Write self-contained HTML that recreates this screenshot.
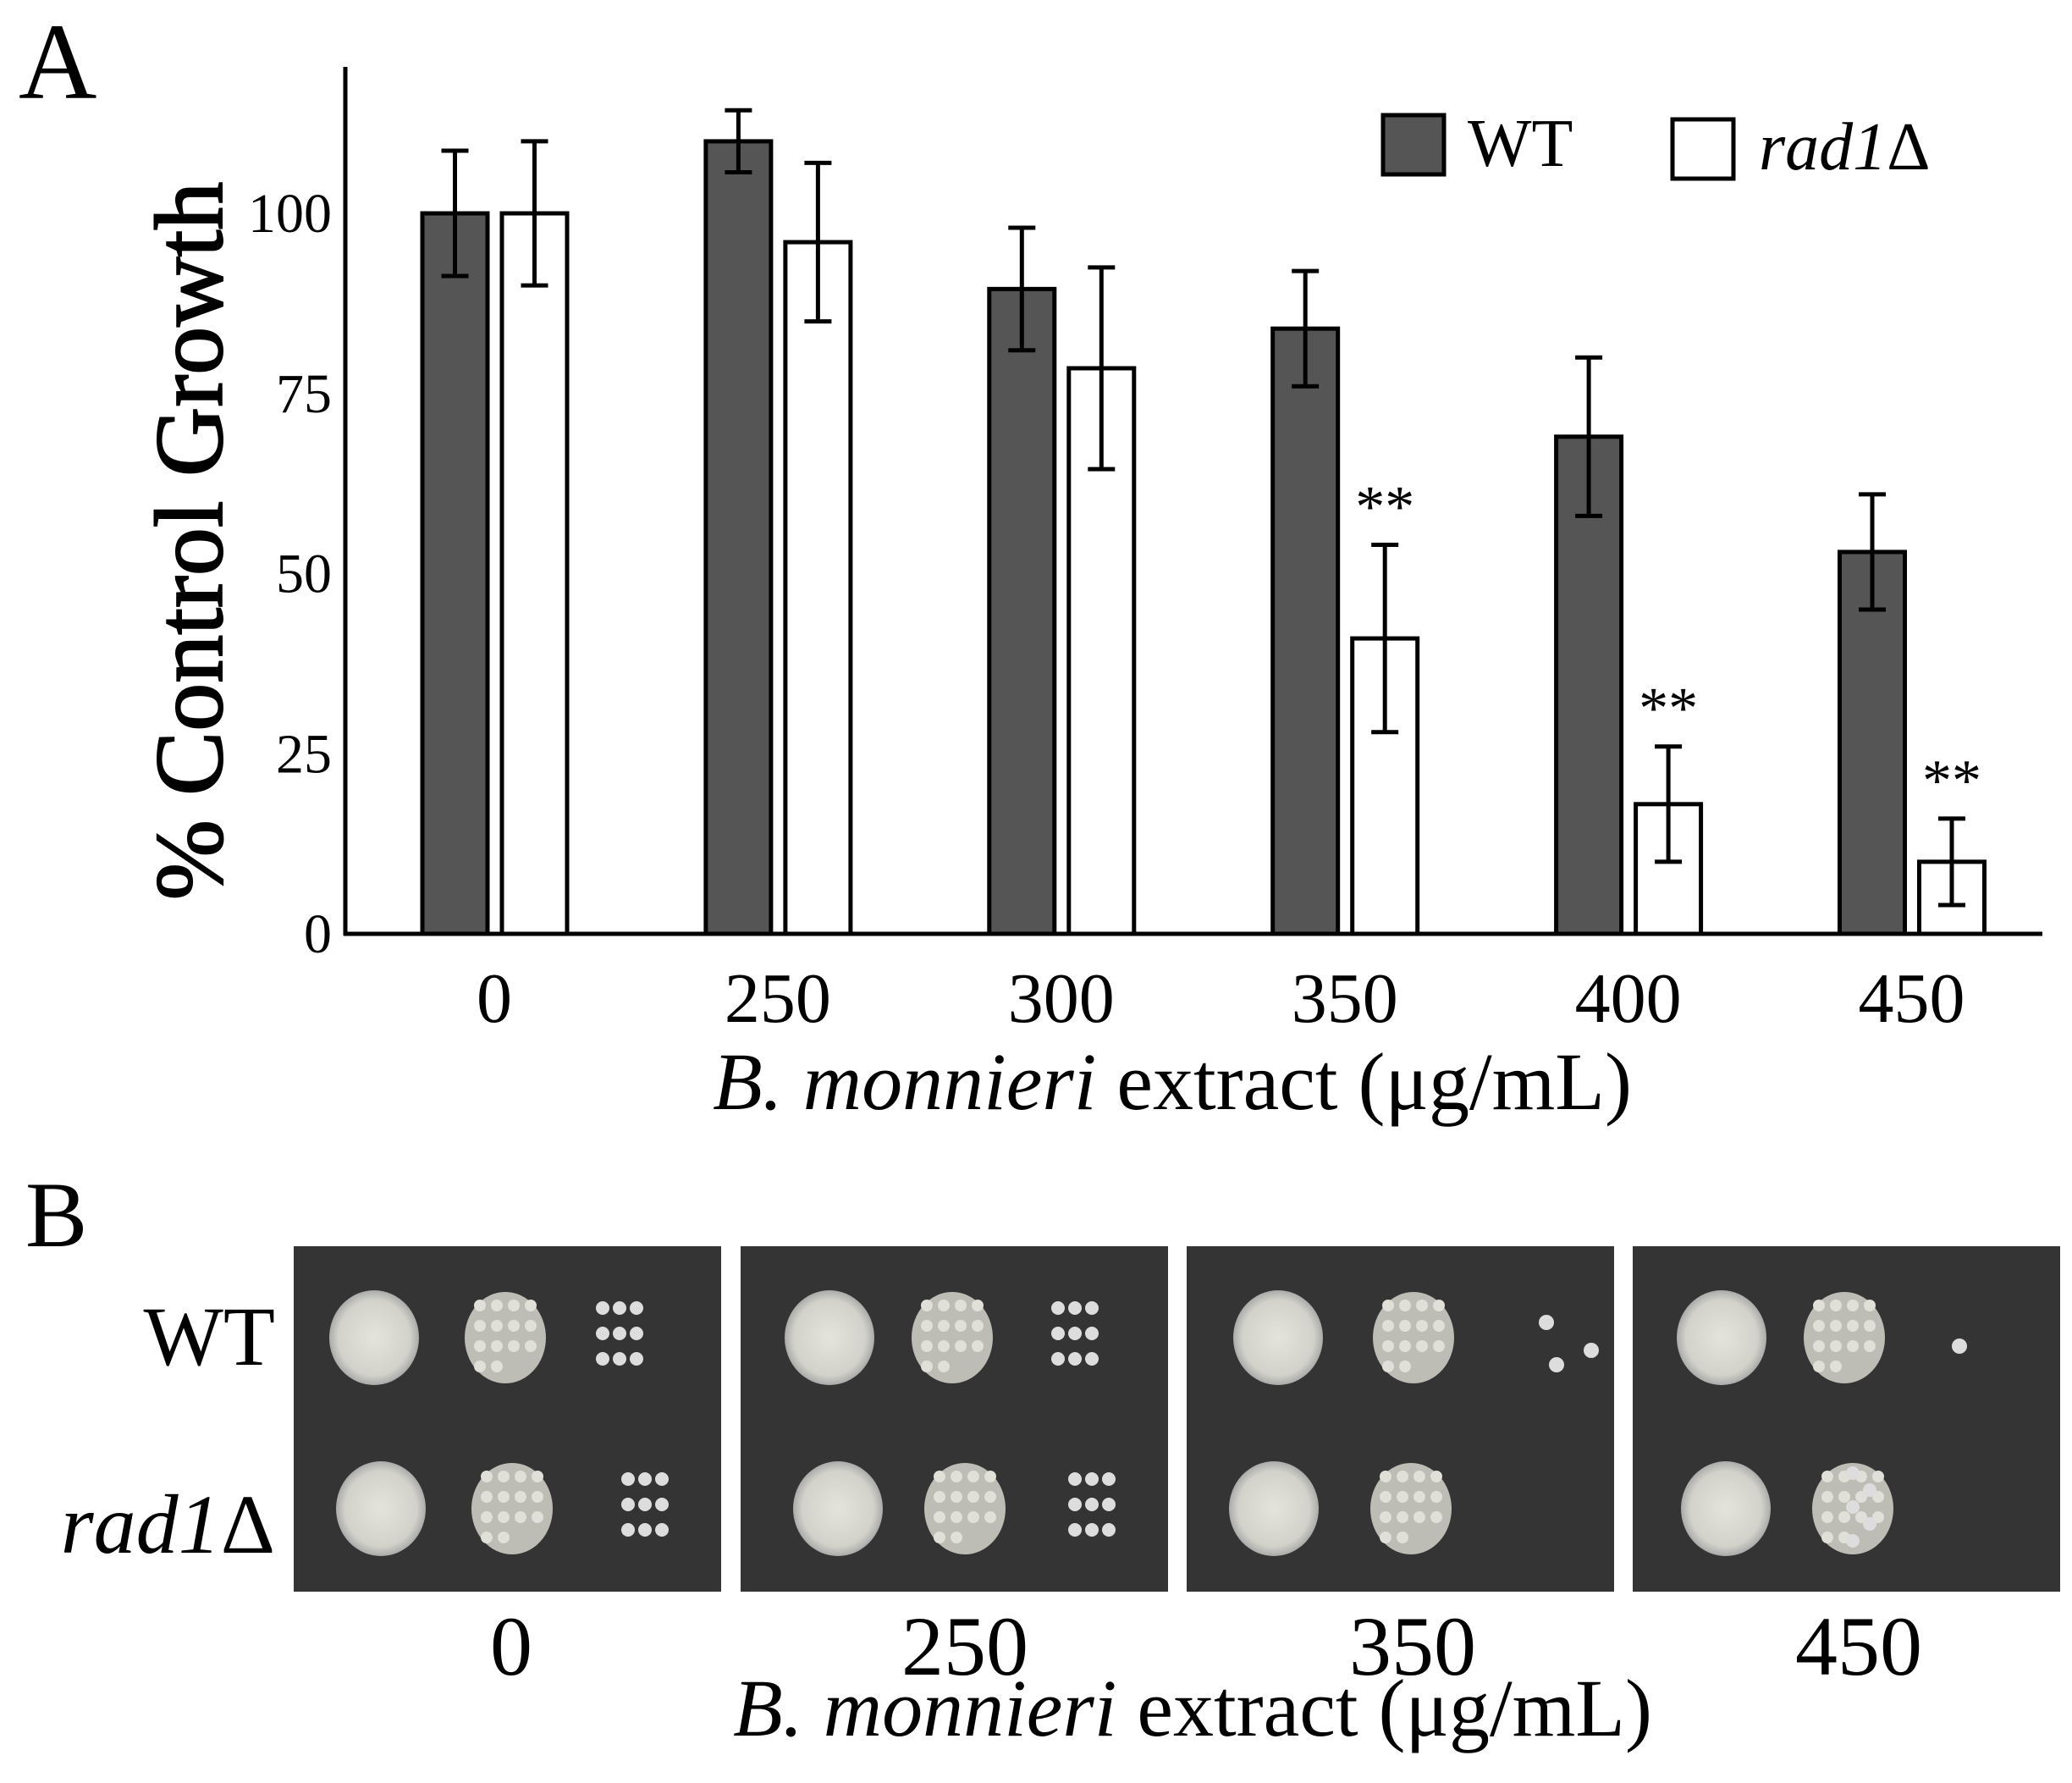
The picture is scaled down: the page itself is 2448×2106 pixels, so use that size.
<!DOCTYPE html>
<html><head><meta charset="utf-8"><style>
html,body{margin:0;padding:0;background:#fff}
svg{display:block}
text{font-family:"Liberation Serif",serif;fill:#000}
</style></head><body>
<svg id="fig" width="2448" height="2106" viewBox="0 0 2448 2106" xmlns="http://www.w3.org/2000/svg">
<text x="22" y="116" font-size="128">A</text>
<g id="chart"></g>
<text transform="translate(262,639) rotate(-90)" text-anchor="middle" font-size="114" stroke="#000" stroke-width="2">% Control Growth</text>
<text x="1385" y="1310" text-anchor="middle" font-size="96"><tspan font-style="italic">B. monnieri</tspan> extract (μg/mL)</text>
<g>
<rect x="1634" y="136" width="72" height="70" fill="#555" stroke="#000" stroke-width="5"/>
<text x="1734" y="196" font-size="80">WT</text>
<rect x="1976" y="141" width="72" height="70" fill="#fff" stroke="#000" stroke-width="5"/>
<text x="2078" y="200" font-size="80"><tspan font-style="italic">rad1</tspan>Δ</text>
</g>
<text x="30" y="1472" font-size="110">B</text>
<g id="plates"></g>
<text x="325" y="1612" text-anchor="end" font-size="100">WT</text>
<text x="325" y="1834" text-anchor="end" font-size="100"><tspan font-style="italic">rad1</tspan>Δ</text>
<text x="1409" y="2050" text-anchor="middle" font-size="96"><tspan font-style="italic">B. monnieri</tspan> extract (μg/mL)</text>
</svg>
<script>
const categories=["0","250","300","350","400","450"];
const wtValues=[100,110,89.5,84,69,53];
const wtErrors=[8.7,4.3,8.5,8,11,8];
const radValues=[100,96,78.5,41,18,10];
const radErrors=[10,11,14,13,8,6];
const significant=[false,false,false,true,true,true];
const yTicks=[0,25,50,75,100];
const plateLabels=["0","250","350","450"];

const NS="http://www.w3.org/2000/svg";
function mk(tag,attrs,parent){const e=document.createElementNS(NS,tag);for(const k in attrs)e.setAttribute(k,attrs[k]);parent.appendChild(e);return e;}
const g=document.getElementById('chart');
const x0=408,x1=2413,yBase=1103,yTop=79;
const y=v=>yBase-v*8.51;
const xc=i=>584+i*334.9;
let a=mk('line',{x1:x0,y1:yTop,x2:x0,y2:yBase+2,stroke:'#000','stroke-width':5},g);

yTicks.forEach(t=>{
  const tx=mk('text',{x:392,y:y(t)+22,'text-anchor':'end','font-size':66},g);
  
  
  tx.textContent=t;
});
function bar(i,v,e,fill,left,name){
  const bx=xc(i)+left;
  const r=mk('rect',{x:bx,y:y(v),width:77,height:yBase-y(v),fill:fill,stroke:'#000','stroke-width':5},g);
  
  
  const cx=bx+38.5;
  const eb=mk('path',{d:`M${cx},${y(v+e)}V${y(v-e)}M${cx-16},${y(v+e)}H${cx+16}M${cx-16},${y(v-e)}H${cx+16}`,stroke:'#000','stroke-width':5,fill:'none'},g);
  
  
  return cx;
}
categories.forEach((c,i)=>{
  bar(i,wtValues[i],wtErrors[i],'#555',-85,'bar-wt-'+c);
  const cx=bar(i,radValues[i],radErrors[i],'#fff',9,'bar-rad1-'+c);
  if(significant[i]){
    const s=mk('text',{x:cx,y:y(radValues[i]+radErrors[i])-22,'text-anchor':'middle','font-size':70},g);
    
    
    s.textContent='**';
  }
  const lb=mk('text',{x:xc(i),y:1207,'text-anchor':'middle','font-size':84},g);
  
  
  lb.textContent=c;
});
a=mk('line',{x1:x0-2,y1:yBase,x2:x1,y2:yBase,stroke:'#000','stroke-width':5},g);


const pg=document.getElementById('plates');
const defs=mk('defs',{},pg);
const rg=mk('radialGradient',{id:'sp'},defs);
mk('stop',{offset:'0%','stop-color':'#e4e4dc'},rg);
mk('stop',{offset:'80%','stop-color':'#d2d2ca'},rg);
mk('stop',{offset:'100%','stop-color':'#aaa'},rg);
const plateX=[347,875,1402,1929];
const spots=[
 [[95,250,385],[103,258,415]],
 [[105,250,395],[115,265,415]],
 [[108,268,null],[103,265,null]],
 [[105,250,null],[110,260,null]]
];
plateX.forEach((px,p)=>{
  const r=mk('rect',{x:px,y:1472,width:505,height:408,fill:'#343434'},pg);
  
  
  [1580,1782].forEach((cy,row)=>{
    const s=spots[p][row];
    mk('ellipse',{cx:px+s[0],cy:cy,rx:53,ry:56,fill:'url(#sp)'},pg);
    mk('ellipse',{cx:px+s[1],cy:cy,rx:48,ry:54,fill:'#bdbdb5'},pg);
    for(let k=0;k<14;k++){mk('circle',{cx:px+s[1]-30+(k%4)*20,cy:cy-38+Math.floor(k/4)*24,r:7,fill:'#e0e0d8'},pg);}
    if(s[2]!==null){
      for(let k=0;k<9;k++){mk('circle',{cx:px+s[2]-20+(k%3)*20,cy:cy-35+Math.floor(k/3)*30,r:8,fill:'#ddd'},pg);}
    }
  });
  const t=mk('text',{x:[604,1140,1669,2196][p],y:1978,'text-anchor':'middle','font-size':100},pg);
  
  
  t.textContent=plateLabels[p];
});
[[1402+425,1562],[1402+437,1612],[1402+478,1595],[1929+386,1590]].forEach(c=>mk('circle',{cx:c[0],cy:c[1],r:9,fill:'#ddd'},pg));
[[1929+260,1740],[1929+260,1780],[1929+280,1760],[1929+260,1820],[1929+280,1800]].forEach(c=>mk('circle',{cx:c[0],cy:c[1],r:8,fill:'#ddd'},pg));
</script>
</body></html>
